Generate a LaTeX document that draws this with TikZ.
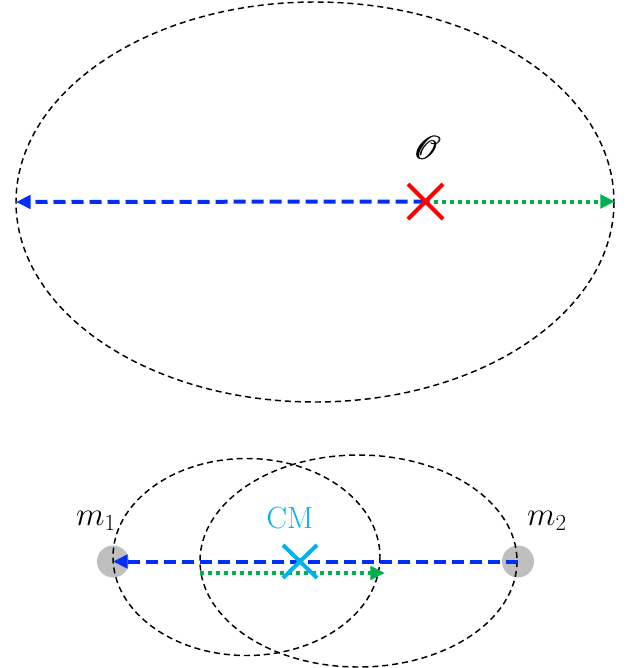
\documentclass[tikz,border=0pt]{standalone}
\usepackage{mathrsfs}
\usetikzlibrary{arrows.meta}
\definecolor{arrblue}{RGB}{5,45,250}
\definecolor{arrgreen}{RGB}{0,176,80}
\definecolor{cmcyan}{RGB}{0,176,240}
\definecolor{massgray}{RGB}{191,191,191}
\newcommand{\thickO}{\rlap{$\mathscr{O}$}\kern0.45pt$\mathscr{O}$}
\tikzset{
  orbit/.style={draw=black, line width=1.1pt, dash pattern=on 4.5pt off 3pt},
  bluearrow/.style={draw=arrblue, line width=3pt, dash pattern=on 9pt off 4.5pt, -{Triangle[length=11pt,width=10pt]}},
  greenarrow/.style={draw=arrgreen, line width=3pt, dash pattern=on 3pt off 3pt, -{Triangle[length=11pt,width=10pt]}},
  crossmark/.style={line width=3pt},
  mass/.style={circle, fill=massgray, minimum size=24pt, inner sep=0pt},
  lbl/.style={inner sep=0pt, font=\fontsize{25}{30}\selectfont}
}
\begin{document}
\begin{tikzpicture}[x=0.75pt,y=-0.75pt]
\useasboundingbox (0,0) rectangle (631,668);
% top orbit
\draw[orbit] (315,202) ellipse [x radius=299, y radius=200];
\coordinate (O) at (425.5,201.5);
\coordinate (Oleft) at (16,202);
\coordinate (Oright) at (615,201.5);
\draw[bluearrow] (O) -- (Oleft);
\draw[greenarrow] (O) -- (Oright);
\draw[crossmark, red] (408,184) -- (443,219) (443,184) -- (408,219);
\node[lbl, font=\fontsize{31}{36}\selectfont] (Olabel) at (427,148) {\thickO};
% bottom: masses
\node[mass] (m1) at (113,561.5) {};
\node[mass] (m2) at (518,561.5) {};
% bottom orbits
\draw[orbit] (246.5,557) ellipse [x radius=133.5, y radius=98.5];
\draw[orbit] (358.5,561) ellipse [x radius=158.5, y radius=106];
% arrows
\coordinate (CM) at (300,561.5);
\coordinate (gstart) at (200,573);
\coordinate (gend) at (385,573);
\draw[bluearrow] (m2.center) -- (m1.center);
\draw[greenarrow] (gstart) -- (gend);
\draw[crossmark, cmcyan] (283,545) -- (317,578) (317,545) -- (283,578);
\node[lbl, text=cmcyan, font=\fontsize{23}{28}\selectfont] (CMlabel) at (290,518) {CM};
\node[lbl] (m1label) at (96,521) {$m_1$};
\node[lbl] (m2label) at (547,521) {$m_2$};
\end{tikzpicture}
\end{document}
